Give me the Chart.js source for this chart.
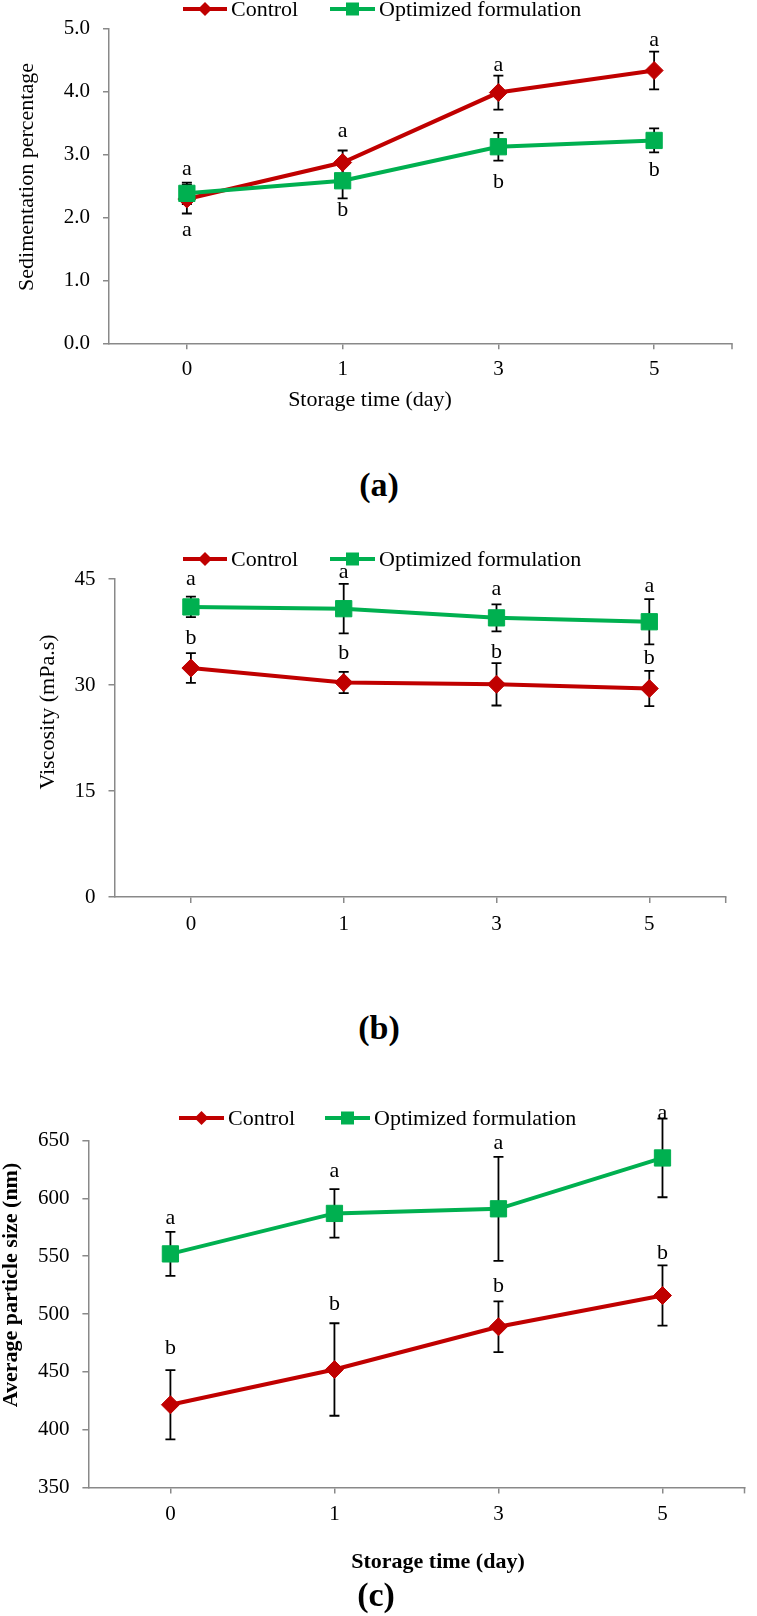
<!DOCTYPE html>
<html>
<head>
<meta charset="utf-8">
<title>Storage stability</title>
<script src="https://cdn.jsdelivr.net/npm/chart.js@4.4.1/dist/chart.umd.min.js"></script>
<style>
  html, body { margin: 0; padding: 0; background: #fff; }
  #page { position: relative; width: 757px; height: 1616px; overflow: hidden; background: #fff; }
  #page canvas { position: absolute; left: 0; }
  .panel-label {
    position: absolute;
    font-family: 'Liberation Serif', 'Times New Roman', serif;
    font-weight: bold;
    font-size: 34px;
    line-height: 1;
    color: #000;
    transform: translate(-50%, -50%);
  }
</style>
</head>
<body>
<div id="page">
  <canvas id="chartA" width="757" height="415" style="top:0px"></canvas>
  <div class="panel-label" style="left:379px;top:485px">(a)</div>
  <canvas id="chartB" width="757" height="420" style="top:530px"></canvas>
  <div class="panel-label" style="left:379px;top:1028px">(b)</div>
  <canvas id="chartC" width="757" height="500" style="top:1090px"></canvas>
  <div class="panel-label" style="left:376px;top:1595px">(c)</div>
</div>
<script>
// Data
const days = ['0', '1', '3', '5'];
const seriesNames = ['Control', 'Optimized formulation'];

// (a) Sedimentation percentage
const sedTicks = [0, 5, 1];
const sedControl = [2.29, 2.87, 3.98, 4.33];
const sedControlErr = [0.23, 0.19, 0.27, 0.30];
const sedControlLetters = ['a', 'a', 'a', 'a'];
const sedControlLetterY = [2.76, 3.36, 4.42, 4.81];
const sedOptim = [2.38, 2.58, 3.12, 3.22];
const sedOptimErr = [0.17, 0.28, 0.22, 0.19];
const sedOptimLetters = ['a', 'b', 'b', 'b'];
const sedOptimLetterY = [1.80, 2.12, 2.55, 2.74];

// (b) Viscosity
const viscTicks = [0, 45, 15];
const viscControl = [32.4, 30.35, 30.1, 29.5];
const viscControlErr = [2.1, 1.5, 3.0, 2.5];
const viscControlLetters = ['b', 'b', 'b', 'b'];
const viscControlLetterY = [36.6, 34.5, 34.6, 33.8];
const viscOptim = [41.05, 40.8, 39.5, 38.95];
const viscOptimErr = [1.45, 3.5, 1.9, 3.2];
const viscOptimLetters = ['a', 'a', 'a', 'a'];
const viscOptimLetterY = [45.0, 45.9, 43.5, 44.0];

// (c) Average particle size
const sizeTicks = [350, 650, 50];
const sizeControl = [421.5, 452, 489, 516];
const sizeControlErr = [30, 40, 22, 26];
const sizeControlLetters = ['b', 'b', 'b', 'b'];
const sizeControlLetterY = [470, 508.7, 524.3, 553];
const sizeOptim = [552, 587, 591, 635];
const sizeOptimErr = [19, 21, 45, 34];
const sizeOptimLetters = ['a', 'a', 'a', 'a'];
const sizeOptimLetterY = [583, 623.5, 647.8, 674];

// Styling
const fontFamily = "'Liberation Serif', 'Times New Roman', serif";
const red = '#C00000';
const green = '#00B050';
const axisColor = '#898989';

Chart.defaults.font.family = fontFamily;
Chart.defaults.color = '#000';

// error bars, letters, legend, titles
const extrasPlugin = {
  id: 'extras',
  beforeDatasetsDraw(chart) {
    const ctx = chart.ctx;
    const yScale = chart.scales.y;
    ctx.save();
    ctx.strokeStyle = '#000';
    ctx.lineWidth = 1.8;
    chart.data.datasets.forEach((ds, i) => {
      const meta = chart.getDatasetMeta(i);
      meta.data.forEach((pt, j) => {
        const top = yScale.getPixelForValue(ds.data[j] + ds.errors[j]);
        const bot = yScale.getPixelForValue(ds.data[j] - ds.errors[j]);
        ctx.beginPath();
        ctx.moveTo(pt.x, top);
        ctx.lineTo(pt.x, bot);
        ctx.moveTo(pt.x - 5, top);
        ctx.lineTo(pt.x + 5, top);
        ctx.moveTo(pt.x - 5, bot);
        ctx.lineTo(pt.x + 5, bot);
        ctx.stroke();
      });
    });
    ctx.restore();
  },
  afterDraw(chart, args, opts) {
    const ctx = chart.ctx;
    const yScale = chart.scales.y;
    const area = chart.chartArea;
    ctx.save();

    // tick at the right end of the x axis
    ctx.strokeStyle = axisColor;
    ctx.lineWidth = 1.5;
    ctx.beginPath();
    ctx.moveTo(area.right, area.bottom);
    ctx.lineTo(area.right, area.bottom + 6);
    ctx.stroke();

    // significance letters
    ctx.fillStyle = '#000';
    ctx.font = '22px ' + fontFamily;
    ctx.textAlign = 'center';
    ctx.textBaseline = 'middle';
    chart.data.datasets.forEach((ds, i) => {
      const meta = chart.getDatasetMeta(i);
      meta.data.forEach((pt, j) => {
        ctx.fillText(ds.letters[j], pt.x, yScale.getPixelForValue(ds.letterY[j]));
      });
    });

    // legend
    const lg = opts.legend;
    chart.data.datasets.forEach((ds, i) => {
      const item = lg.items[i];
      const mid = (item.from + item.to) / 2;
      ctx.strokeStyle = ds.borderColor;
      ctx.fillStyle = ds.borderColor;
      ctx.lineWidth = 4;
      ctx.beginPath();
      ctx.moveTo(item.from, lg.y);
      ctx.lineTo(item.to, lg.y);
      ctx.stroke();
      ctx.beginPath();
      if (ds.pointStyle === 'rectRot') {
        ctx.moveTo(mid - 7, lg.y);
        ctx.lineTo(mid, lg.y - 7);
        ctx.lineTo(mid + 7, lg.y);
        ctx.lineTo(mid, lg.y + 7);
        ctx.closePath();
      } else {
        ctx.rect(mid - 6.5, lg.y - 6.5, 13, 13);
      }
      ctx.fill();
      ctx.fillStyle = '#000';
      ctx.textAlign = 'left';
      ctx.fillText(ds.label, item.to + 4, lg.y + 1);
    });

    // axis titles
    opts.titles.forEach(t => {
      ctx.save();
      ctx.translate(t.x, t.y);
      if (t.rotate) ctx.rotate(-Math.PI / 2);
      ctx.fillStyle = '#000';
      ctx.font = (t.bold ? 'bold ' : '') + '22px ' + fontFamily;
      ctx.textAlign = 'center';
      ctx.textBaseline = 'middle';
      ctx.fillText(t.text, 0, 0);
      ctx.restore();
    });
    ctx.restore();
  }
};

function series(label, values, errors, letters, letterY, color, style, radius, order) {
  return {
    label: label,
    data: values,
    errors: errors,
    letters: letters,
    letterY: letterY,
    borderColor: color,
    backgroundColor: color,
    borderWidth: 4,
    pointStyle: style,
    pointRadius: radius,
    pointBackgroundColor: color,
    pointBorderColor: color,
    pointBorderWidth: 1,
    tension: 0,
    order: order,
    clip: false
  };
}

function makeChart(id, cfg) {
  const height = document.getElementById(id).height;
  return new Chart(document.getElementById(id), {
    type: 'line',
    data: {
      labels: days,
      datasets: [
        series(seriesNames[0], cfg.control, cfg.controlErr, cfg.controlLetters, cfg.controlLetterY, red, 'rectRot', 9, 1),
        series(seriesNames[1], cfg.optim, cfg.optimErr, cfg.optimLetters, cfg.optimLetterY, green, 'rect', 11.5, 0)
      ]
    },
    options: {
      responsive: false,
      animation: false,
      devicePixelRatio: 1,
      events: [],
      layout: {
        padding: { top: cfg.area.top, right: 757 - cfg.area.right, left: 0, bottom: 0 }
      },
      plugins: {
        legend: { display: false },
        tooltip: { enabled: false },
        extras: {
          legend: cfg.legend,
          titles: cfg.titles
        }
      },
      scales: {
        x: {
          offset: true,
          grid: {
            offset: false,
            drawOnChartArea: false,
            drawTicks: true,
            tickLength: 6,
            color: axisColor,
            lineWidth: 1.5
          },
          border: { color: axisColor, width: 1.5 },
          ticks: {
            color: '#000',
            font: { size: 21 },
            padding: cfg.xTickPad,
            maxRotation: 0
          },
          afterFit: function(scale) {
            scale.height = height - cfg.area.bottom;
          }
        },
        y: {
          min: cfg.ticks[0],
          max: cfg.ticks[1],
          grid: {
            drawOnChartArea: false,
            drawTicks: true,
            tickLength: 6,
            color: axisColor,
            lineWidth: 1.5
          },
          border: { color: axisColor, width: 1.5 },
          ticks: {
            stepSize: cfg.ticks[2],
            color: '#000',
            font: { size: 21 },
            padding: 13,
            callback: function(value) {
              return value.toFixed(cfg.decimals);
            }
          },
          afterFit: function(scale) {
            scale.width = cfg.area.left;
          }
        }
      }
    },
    plugins: [extrasPlugin]
  });
}

// 1. Sedimentation percentage
makeChart('chartA', {
  control: sedControl, controlErr: sedControlErr,
  controlLetters: sedControlLetters, controlLetterY: sedControlLetterY,
  optim: sedOptim, optimErr: sedOptimErr,
  optimLetters: sedOptimLetters, optimLetterY: sedOptimLetterY,
  ticks: sedTicks, decimals: 1,
  area: { left: 109, right: 732, top: 28.3, bottom: 343.3 },
  xTickPad: 8,
  legend: { y: 9, items: [{ from: 183, to: 227 }, { from: 330, to: 375 }] },
  titles: [
    { text: 'Storage time (day)', x: 370, y: 400 },
    { text: 'Sedimentation percentage', x: 27, y: 177, rotate: true }
  ]
});

// 2. Viscosity
makeChart('chartB', {
  control: viscControl, controlErr: viscControlErr,
  controlLetters: viscControlLetters, controlLetterY: viscControlLetterY,
  optim: viscOptim, optimErr: viscOptimErr,
  optimLetters: viscOptimLetters, optimLetterY: viscOptimLetterY,
  ticks: viscTicks, decimals: 0,
  area: { left: 114.5, right: 725.7, top: 49, bottom: 367 },
  xTickPad: 9,
  legend: { y: 29, items: [{ from: 183, to: 227 }, { from: 330, to: 375 }] },
  titles: [
    { text: 'Storage time (day)', x: 392, y: 440 },
    { text: 'Viscosity (mPa.s)', x: 48, y: 182, rotate: true }
  ]
});

// 3. Average particle size
makeChart('chartC', {
  control: sizeControl, controlErr: sizeControlErr,
  controlLetters: sizeControlLetters, controlLetterY: sizeControlLetterY,
  optim: sizeOptim, optimErr: sizeOptimErr,
  optimLetters: sizeOptimLetters, optimLetterY: sizeOptimLetterY,
  ticks: sizeTicks, decimals: 0,
  area: { left: 88.4, right: 756, top: 50.6, bottom: 397.4 },
  xTickPad: 8,
  legend: { y: 28, items: [{ from: 179, to: 224 }, { from: 325, to: 370 }] },
  titles: [
    { text: 'Storage time (day)', x: 438, y: 472, bold: true },
    { text: 'Average particle size (nm)', x: 11, y: 195, rotate: true, bold: true }
  ]
});
</script>
</body>
</html>
